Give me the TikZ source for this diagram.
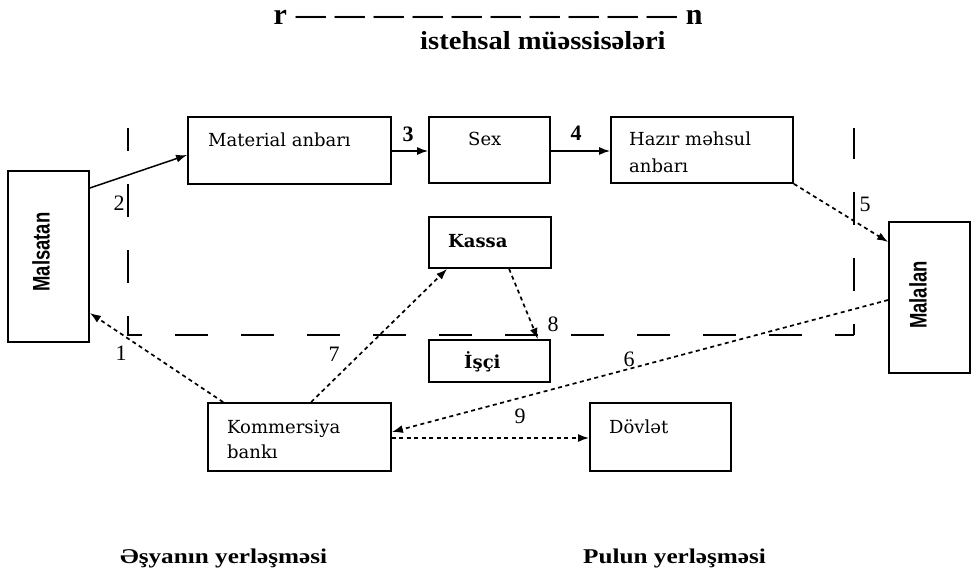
\documentclass[tikz,border=0pt]{standalone}
\usepackage{fontspec}
\setmainfont{Liberation Serif}
\newfontfamily\boxfont{DejaVu Serif}
\newfontfamily\sidefont[FakeStretch=0.77]{Liberation Sans}
\newfontfamily\subfont[FakeStretch=1.1]{Liberation Serif}
\newfontfamily\footfont[FakeStretch=1.2]{Liberation Serif}
\usetikzlibrary{arrows.meta}
\begin{document}
\begin{tikzpicture}[x=1pt,y=-1pt,
  box/.style={draw,line width=1.8pt,inner sep=0pt},
  boxtext/.style={font=\boxfont\fontsize{18}{20}\selectfont,anchor=base west,inner sep=0pt},
  sidetext/.style={font=\sidefont\bfseries\fontsize{24}{26}\selectfont,rotate=90,inner sep=0pt},
  tip/.style={-{Latex[length=11pt,width=8pt]}},
  solidarrow/.style={tip,line width=1.5pt},
  dotarrow/.style={tip,line width=1.7pt,dash pattern=on 4pt off 3.5pt},
  frame/.style={line width=2.8pt,dash pattern=on 33pt off 33pt},
  num/.style={font=\fontsize{22}{24}\selectfont,inner sep=0pt},
  bnum/.style={font=\fontsize{22}{24}\selectfont\bfseries,inner sep=0pt}]
\useasboundingbox (0,0) rectangle (973,575);

% header
\node[font=\fontsize{30}{32}\selectfont\bfseries,anchor=base,inner sep=0pt] (hdr) at (488,25)
  {r\hspace{9pt}—\hspace{9pt}—\hspace{9pt}—\hspace{9pt}—\hspace{9pt}—\hspace{9pt}—\hspace{9pt}—\hspace{9pt}—\hspace{9pt}—\hspace{9pt}—\hspace{9pt}n};
\node[font=\subfont\bfseries\fontsize{26}{28}\selectfont,anchor=base west,inner sep=0pt] (sub) at (420,50) {istehsal müəssisələri};

% enterprise frame, open at the top
\draw[frame,dash phase=10pt] (128,128) -- (128,335) -- (854,335);
\draw[frame,dash phase=2pt] (854,128) -- (854,335);

% boxes
\node[box,minimum width=81pt,minimum height=171pt] (sell) at (48.5,256.5) {};
\node[sidetext] at (41,252) {Malsatan};
\node[box,minimum width=81pt,minimum height=151pt] (buy) at (929.5,297.5) {};
\node[sidetext] at (918,295) {Malalan};

\node[box,minimum width=203pt,minimum height=67pt] (mat) at (289.5,150.5) {};
\node[boxtext] at (208,146) {Material anbarı};
\node[box,minimum width=121pt,minimum height=66pt] (sex) at (489.5,150) {};
\node[boxtext] at (468,145) {Sex};
\node[box,minimum width=182pt,minimum height=66pt] (hazir) at (702,150) {};
\node[boxtext] at (629,145) {Hazır məhsul};
\node[boxtext] at (629,172) {anbarı};
\node[box,minimum width=122pt,minimum height=51pt] (kassa) at (490,242.5) {};
\node[boxtext,font=\boxfont\bfseries\fontsize{18}{20}\selectfont] at (448,247) {Kassa};
\node[box,minimum width=121pt,minimum height=42pt] (isci) at (489.5,361) {};
\node[boxtext,font=\boxfont\bfseries\fontsize{18}{20}\selectfont] at (464,368) {İşçi};
\node[box,minimum width=183pt,minimum height=68pt] (bank) at (299.5,437) {};
\node[boxtext] at (227,433) {Kommersiya};
\node[boxtext] at (227,458) {bankı};
\node[box,minimum width=141pt,minimum height=68pt] (dov) at (660.5,437) {};
\node[boxtext] at (609,433) {Dövlət};

% movement of goods
\draw[solidarrow] (sell.east |- 0,188) -- (mat.west |- 0,155);
\draw[solidarrow] (mat.east |- 0,151) -- (sex.west |- 0,151);
\draw[solidarrow] (sex.east |- 0,151) -- (hazir.west |- 0,151);
\draw[dotarrow] (hazir.south east) -- (buy.west |- 0,242);

% movement of money
\draw[dotarrow] (buy.west |- 0,300) -- (bank.east |- 0,432);
\draw[dotarrow] ([xshift=16pt]bank.north west) -- (sell.east |- 0,313);
\draw[dotarrow] ([xshift=104pt]bank.north west) -- ([xshift=19pt]kassa.south west);
\draw[dotarrow] ([xshift=81pt]kassa.south west) -- ([xshift=-13pt]isci.north east);
\draw[dotarrow] (bank.east |- 0,438) -- (dov.west |- 0,438);

% flow numbers
\node[num] at (119,203) {2};
\node[bnum] at (408,134) {3};
\node[bnum] at (576,133) {4};
\node[num] at (865,204) {5};
\node[num] at (629,359) {6};
\node[num] at (121,353) {1};
\node[num] at (334,354) {7};
\node[num] at (553,324) {8};
\node[num] at (520,416) {9};

% footer
\node[font=\footfont\bfseries\fontsize{21}{24}\selectfont,anchor=base west,inner sep=0pt] (fl) at (120,563) {Əşyanın yerləşməsi};
\node[font=\footfont\bfseries\fontsize{21}{24}\selectfont,anchor=base west,inner sep=0pt] (fr) at (583,563) {Pulun yerləşməsi};
\end{tikzpicture}
\end{document}
